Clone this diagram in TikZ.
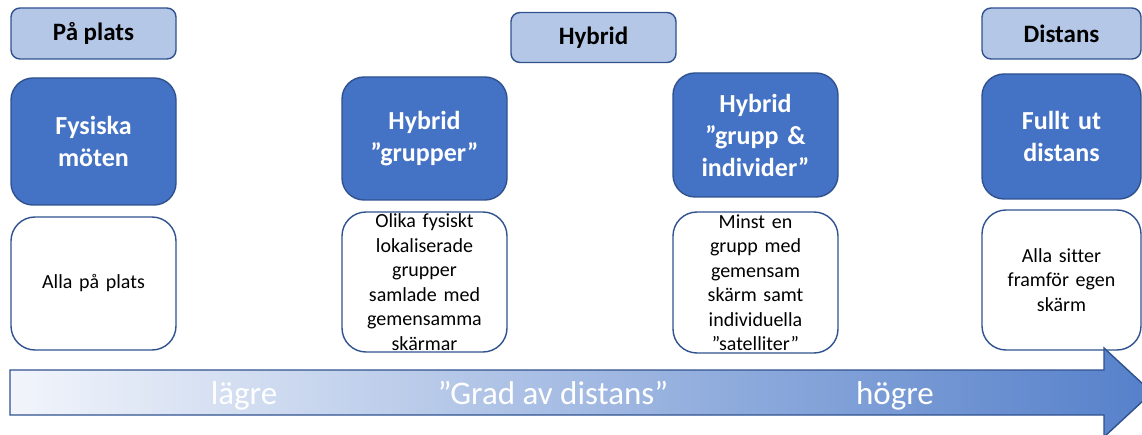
\documentclass[tikz,border=0pt]{standalone}
\usepackage{fontspec}
\setmainfont{Carlito}[Ligatures=NoCommon]
\definecolor{bfill}{HTML}{4472C4}
\definecolor{bline}{HTML}{2F528F}
\definecolor{tfill}{HTML}{B4C7E7}
\definecolor{shl}{HTML}{F2F5FB}
\definecolor{shr}{HTML}{5580CA}
\tikzset{
  titlebox/.style={draw=bline, fill=tfill, line width=1.4pt, rounded corners=9pt,
    minimum width=165pt, minimum height=51pt, inner sep=0pt,
    font=\fontsize{25}{30}\selectfont\bfseries, text=black, align=center},
  bluebox/.style={draw=bline, fill=bfill, line width=1.4pt, rounded corners=22pt,
    minimum width=165pt, inner sep=0pt, text width=150pt,
    font=\fontsize{26}{32}\selectfont\bfseries, text=white, align=center},
  whitebox/.style={draw=bline, fill=white, line width=1.4pt, rounded corners=24pt,
    minimum width=165pt, inner sep=0pt, text width=150pt,
    font=\fontsize{20}{24.5}\selectfont, text=black, align=center},
  arrowtext/.style={font=\fontsize{33}{40}\selectfont, text=white, inner sep=0pt, anchor=base}
}
\begin{document}
\begin{tikzpicture}[x=1pt,y=-1pt]
\useasboundingbox (0,0) rectangle (1142,435);
\begin{scope}
\clip (0,0) rectangle (1142,435);
% titles
\node[titlebox] (t1) at (93.5,33.5) {På plats};
\node[titlebox, minimum height=50pt] (t2) at (593.5,37.5) {Hybrid};
\node[titlebox, minimum width=159pt] (t3) at (1061.5,33.5) {Distans};
% blue boxes
\node[bluebox, minimum height=127pt] (b1) at (93.5,141.5) {Fysiska\\möten};
\node[bluebox, minimum height=123pt] (b2) at (424.5,138.5) {Hybrid\\”grupper”};
\node[bluebox, minimum height=124pt] (b3) at (755.5,135) {Hybrid\\”grupp \&\\individer”};
\node[bluebox, minimum width=159pt, minimum height=125pt] (b4) at (1061.5,136.5) {Fullt ut\\distans};
% white boxes
\node[whitebox, minimum height=133pt] (w1) at (93.5,283.5) {Alla på plats};
\node[whitebox, minimum height=140pt] (w2) at (424.5,282) {Olika fysiskt\\lokaliserade\\grupper\\samlade med\\gemensamma\\skärmar};
\node[whitebox, minimum height=141pt] (w3) at (755.5,282.5) {Minst en\\grupp med\\gemensam\\skärm samt\\individuella\\”satelliter”};
\node[whitebox, minimum width=159pt, minimum height=140pt] (w4) at (1061.5,280) {Alla sitter\\framför egen\\skärm};
% arrow
\shade[left color=shl, right color=shr]
  (10,370) -- (1104,370) -- (1104,348) -- (1152,392.5) -- (1104,437) -- (1104,415) -- (10,415) -- cycle;
\draw[bline, line width=1.4pt, line join=miter]
  (10,370) -- (1104,370) -- (1104,348) -- (1152,392.5) -- (1104,437) -- (1104,415) -- (10,415) -- cycle;
\node[arrowtext] (l1) at (244,404) {lägre};
\node[arrowtext] (l2) at (553,404) {”Grad av distans”};
\node[arrowtext] (l3) at (895,404) {högre};
\end{scope}
\end{tikzpicture}
\end{document}
